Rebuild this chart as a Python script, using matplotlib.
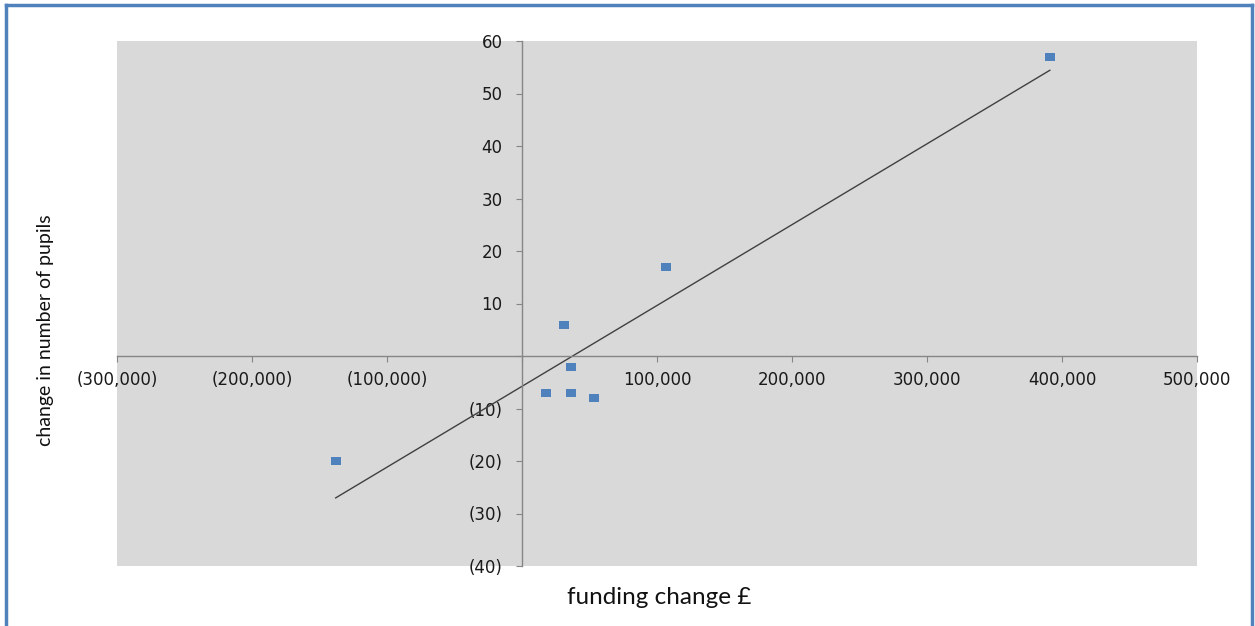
import numpy as np
import matplotlib.pyplot as plt
from matplotlib.ticker import FuncFormatter

# funding change (GBP) vs change in pupil numbers
funding = [-138000, 18000, 31000, 36000, 36000, 53000, 107000, 391000]
pupils = [-20, -7, 6, -2, -7, -8, 17, 57]

x_ticks = np.arange(-300000, 500001, 100000)
y_ticks = np.arange(-40, 61, 10)

def fmt(v, pos=None):
    if v == 0:
        return ''
    s = '{:,.0f}'.format(abs(v))
    return '(' + s + ')' if v < 0 else s

fig = plt.figure(figsize=(12.55, 6.26), dpi=100)

ax = fig.add_axes([117/1255, 1 - 566/626, 1080/1255, 525/626])
ax.set_facecolor('#D9D9D9')
ax.set_xlim(-300000, 500000)
ax.set_ylim(-40, 60)

# axes cross at the origin
for side in ['top', 'right']:
    ax.spines[side].set_visible(False)
ax.spines['left'].set_position(('data', 0))
ax.spines['bottom'].set_position(('data', 0))
for side in ['left', 'bottom']:
    ax.spines[side].set_color('#868686')
    ax.spines[side].set_linewidth(1)

ax.set_xticks(x_ticks)
ax.set_yticks(y_ticks)
ax.xaxis.set_major_formatter(FuncFormatter(fmt))
ax.yaxis.set_major_formatter(FuncFormatter(fmt))
ax.tick_params(axis='x', direction='out', length=4, color='#868686', pad=7,
               labelsize=12, labelcolor='#1a1a1a')
ax.tick_params(axis='y', direction='out', length=4, color='#868686', pad=10,
               labelsize=12, labelcolor='#1a1a1a')
for lab in ax.get_xticklabels() + ax.get_yticklabels():
    lab.set_family('DejaVu Sans')

# data points (small flat rectangles)
rect = [(-1.3, -1), (1.3, -1), (1.3, 1), (-1.3, 1), (-1.3, -1)]
ax.scatter(funding, pupils, marker=rect, s=48, color='#4F81BD', linewidths=0,
           zorder=3, clip_on=False)

# linear trendline over the data range
m, c = np.polyfit(funding, pupils, 1)
xs = np.array([min(funding), max(funding)])
ax.plot(xs, m * xs + c, color='#404040', linewidth=1, zorder=2)

fig.text(45/1255, 1 - 330/626, 'change in number of pupils', rotation=90,
         ha='center', va='center', fontsize=14, color='#111111',
         family='Lato')
fig.text(659/1255, 1 - 598/626, 'funding change £', ha='center', va='center',
         fontsize=17.5, color='#111111', family='Lato')

# outer frame (open at the bottom)
frame = dict(transform=fig.transFigure, color='#4F81BD', lw=2.5)
fig.add_artist(plt.Line2D([6/1255, 6/1255], [0, 1 - 5/626], **frame))
fig.add_artist(plt.Line2D([6/1255, 1252/1255], [1 - 5/626, 1 - 5/626], **frame))
fig.add_artist(plt.Line2D([1252/1255, 1252/1255], [0, 1 - 5/626], **frame))

fig.savefig('out.png', dpi=100)
